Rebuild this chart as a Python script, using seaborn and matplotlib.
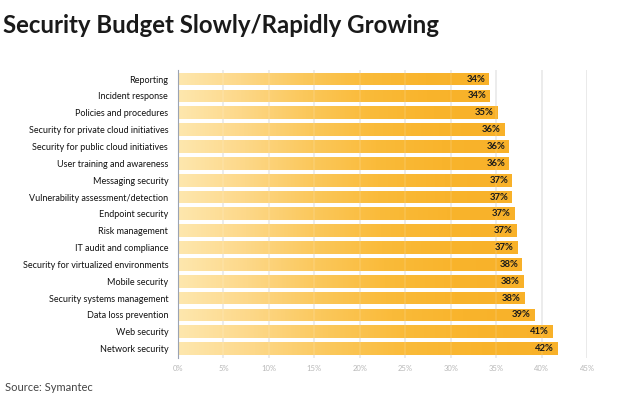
import numpy as np
import pandas as pd
import matplotlib
matplotlib.use("Agg")
import matplotlib.pyplot as plt
from matplotlib.colors import LinearSegmentedColormap
import seaborn as sns

# ── data ────────────────────────────────────────────────────
categories = [
    "Reporting", "Incident response", "Policies and procedures",
    "Security for private cloud initiatives", "Security for public cloud initiatives",
    "User training and awareness", "Messaging security",
    "Vulnerability assessment/detection", "Endpoint security", "Risk management",
    "IT audit and compliance", "Security for virtualized environments",
    "Mobile security", "Security systems management", "Data loss prevention",
    "Web security", "Network security",
]
values = [34.2, 34.3, 35.1, 35.9, 36.4, 36.4, 36.7, 36.7, 37.0, 37.2,
          37.3, 37.8, 38.0, 38.1, 39.2, 41.2, 41.7]
labels = ["34%", "34%", "35%", "36%", "36%", "36%", "37%", "37%", "37%", "37%",
          "37%", "38%", "38%", "38%", "39%", "41%", "42%"]
x_ticks = [0, 5, 10, 15, 20, 25, 30, 35, 40, 45]

df = pd.DataFrame({"item": categories, "pct": values})

sns.set_theme(style="white")
plt.rcParams["font.family"] = ["Lato", "DejaVu Sans"]

fig = plt.figure(figsize=(6.2, 3.99), dpi=100)
ax = fig.add_axes([0.287, 0.103, 0.66, 0.722])

sns.barplot(data=df, x="pct", y="item", orient="h", color="#F9B42C",
            width=0.76, ax=ax, zorder=2)

# gradient fill for each bar (light on the left, full orange toward the end)
grad = LinearSegmentedColormap.from_list(
    "bar", ["#FEE7AE", "#FDD889", "#FBC85C", "#FABB3A", "#F9B42C", "#F8B129"])
g = np.tile(np.linspace(0, 1, 512), (2, 1))
for p in ax.patches:
    x0, y0 = p.get_x(), p.get_y()
    w, h = p.get_width(), p.get_height()
    im = ax.imshow(g, cmap=grad, aspect="auto", extent=[x0, x0 + w, y0 + h, y0],
                   zorder=2, interpolation="bilinear")
    im.set_clip_path(p)
    p.set_facecolor("none")
    p.set_edgecolor("none")

# faint grid showing through the bars
for t in x_ticks[1:-1]:
    ax.axvline(t, color="white", alpha=0.12, linewidth=1.2, zorder=2.5)

for i, (v, lab) in enumerate(zip(values, labels)):
    ax.text(v - 0.4, i, lab, ha="right", va="center", fontsize=6.8,
            fontweight="bold", color="#1a1a1a", zorder=3)

ax.set_xlim(0, 45)
ax.set_ylim(16.55, -0.55)
ax.set_xticks(x_ticks)
ax.set_xticklabels([f"{t}%" for t in x_ticks], fontsize=5.5, color="#b8b8b8")
ax.xaxis.grid(True, color="#e8e8e8", linewidth=1.3, zorder=0)
ax.set_axisbelow(True)
ax.tick_params(axis="x", length=0, pad=5)
ax.tick_params(axis="y", which="major", length=0, pad=7, labelsize=6.5,
               labelcolor="#111111")
ax.set_yticks(np.arange(-0.5, 17, 1), minor=True)
ax.tick_params(axis="y", which="minor", length=3, color="#9aa3b3", width=0.8)
ax.set_xlabel("")
ax.set_ylabel("")
for s in ["top", "right", "bottom"]:
    ax.spines[s].set_visible(False)
ax.spines["left"].set_color("#9aa3b3")
ax.spines["left"].set_linewidth(0.8)

fig.text(0.005, 0.935, "Security Budget Slowly/Rapidly Growing", fontsize=17.3,
         fontweight="bold", color="#1a1a1a", ha="left", va="center")
fig.text(0.008, 0.03, "Source: Symantec", fontsize=8, color="#444444",
         ha="left", va="center")

fig.savefig("out.png", dpi=100)
